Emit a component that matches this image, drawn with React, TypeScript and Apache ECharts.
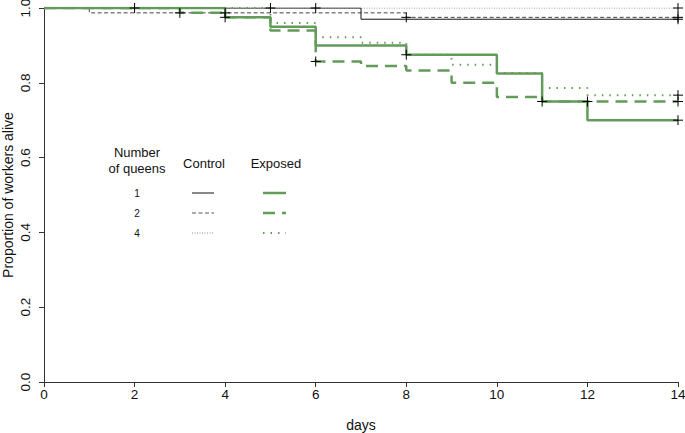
import React, { useEffect, useRef } from "react";
import * as echarts from "echarts";

// Kaplan-Meier curves: step changes at given days
const control1Days = [0, 7, 14];
const control1Surv = [1.0, 0.97, 0.97];
const control2Days = [0, 1, 8, 14];
const control2Surv = [1.0, 0.987, 0.975, 0.975];
const control4Days = [0, 14];
const control4Surv = [1.0, 1.0];
const exposed1Days = [0, 4, 5, 6, 8, 10, 11, 12, 14];
const exposed1Surv = [1.0, 0.975, 0.95, 0.9, 0.875, 0.825, 0.75, 0.7, 0.7];
const exposed2Days = [0, 3, 4, 5, 6, 7, 8, 9, 10, 11, 14];
const exposed2Surv = [1.0, 0.987, 0.975, 0.94, 0.857, 0.845, 0.833, 0.8, 0.762, 0.75, 0.75];
const exposed4Days = [0, 5, 6, 7, 8, 9, 10, 11, 12, 14];
const exposed4Surv = [1.0, 0.96, 0.922, 0.907, 0.875, 0.848, 0.826, 0.786, 0.767, 0.767];

// censoring marks
const censorDays = [2, 3, 4, 4, 5, 6, 6, 8, 8, 11, 12, 14, 14, 14, 14, 14, 14];
const censorSurv = [1.0, 0.987, 0.987, 0.975, 1.0, 1.0, 0.857, 0.975, 0.875, 0.75, 0.75, 1.0, 0.975, 0.97, 0.767, 0.75, 0.7];

const xTicks = [0, 2, 4, 6, 8, 10, 12, 14];
const yTicks = [0, 0.2, 0.4, 0.6, 0.8, 1.0];

const legendRows = ["1", "2", "4"];

const GREEN = "#639c5a";
const FONT = "Liberation Sans, Arial, Helvetica, sans-serif";

function pairs(xs: number[], ys: number[]) {
  return xs.map((x, i) => [x, ys[i]]);
}

export default function App() {
  const ref = useRef<HTMLDivElement>(null);
  useEffect(() => {
    if (!ref.current) return;
    const chart = echarts.init(ref.current, null, { renderer: "svg" });
    const stepLine = (name: string, xs: number[], ys: number[], color: string, width: number, dash: any, z: number) => ({
      type: "line",
      name,
      step: "end",
      showSymbol: false,
      symbol: "none",
      data: pairs(xs, ys),
      lineStyle: { color, width, type: dash },
      z,
      silent: true,
    });
    const legendX = { label: 137, control: [192, 214], exposed: [263, 286] };
    const rowY = [193, 213, 233];
    const ctrlStyles = [
      { stroke: "#111", lineWidth: 1, lineDash: null as any },
      { stroke: "#555", lineWidth: 1, lineDash: [4, 2.5] },
      { stroke: "#888", lineWidth: 1, lineDash: [1, 1.5] },
    ];
    const expStyles = [
      { stroke: GREEN, lineWidth: 2.5, lineDash: null as any },
      { stroke: GREEN, lineWidth: 2.5, lineDash: [12, 7] },
      { stroke: GREEN, lineWidth: 2, lineDash: [1.5, 6] },
    ];
    const tStyle = (text: string, size: number) => ({ text, fontSize: size, fontFamily: FONT, fill: "#111", align: "center", verticalAlign: "middle" });
    const graphics: any[] = [
      { type: "text", x: 137, y: 152, style: tStyle("Number", 13) },
      { type: "text", x: 137, y: 168, style: tStyle("of queens", 13) },
      { type: "text", x: 204, y: 163, style: tStyle("Control", 13) },
      { type: "text", x: 276, y: 163, style: tStyle("Exposed", 13) },
    ];
    legendRows.forEach((lab, i) => {
      graphics.push({ type: "text", x: legendX.label, y: rowY[i], style: tStyle(lab, 10) });
      graphics.push({ type: "line", shape: { x1: legendX.control[0], y1: rowY[i], x2: legendX.control[1], y2: rowY[i] }, style: ctrlStyles[i] });
      graphics.push({ type: "line", shape: { x1: legendX.exposed[0], y1: rowY[i], x2: legendX.exposed[1], y2: rowY[i] }, style: expStyles[i] });
    });

    chart.setOption({
      animation: false,
      backgroundColor: "#ffffff",
      textStyle: { fontFamily: FONT },
      grid: { left: 44, right: 7, top: 8, bottom: 51, outerBoundsMode: "none", containLabel: false },
      xAxis: {
        type: "value",
        min: xTicks[0],
        max: xTicks[xTicks.length - 1],
        interval: 2,
        name: "days",
        nameLocation: "middle",
        nameGap: 36,
        nameMoveOverlap: false,
        nameTextStyle: { fontSize: 14, color: "#111", fontFamily: FONT },
        axisLine: { show: true, onZero: false, lineStyle: { color: "#333", width: 1 } },
        axisTick: { show: true, length: 5, lineStyle: { color: "#333" } },
        axisLabel: { fontSize: 13.5, color: "#111", margin: 5, fontFamily: FONT, showMaxLabel: true, showMinLabel: true },
        splitLine: { show: false },
      },
      yAxis: {
        type: "value",
        min: yTicks[0],
        max: yTicks[yTicks.length - 1],
        interval: 0.2,
        name: "Proportion of workers alive",
        nameLocation: "middle",
        nameGap: 29,
        nameMoveOverlap: false,
        nameTextStyle: { fontSize: 14, color: "#111", fontFamily: FONT },
        axisLine: { show: true, onZero: false, lineStyle: { color: "#333", width: 1 } },
        axisTick: { show: true, length: 5, lineStyle: { color: "#333" } },
        axisLabel: { fontSize: 13.5, color: "#111", rotate: 90, margin: 12, fontFamily: FONT, formatter: (v: number) => v.toFixed(1), showMaxLabel: true, showMinLabel: true },
        splitLine: { show: false },
      },
      graphic: graphics,
      series: [
        stepLine("control4", control4Days, control4Surv, "#888", 1, [1, 1.5], 2),
        stepLine("control2", control2Days, control2Surv, "#444", 1, [4, 2.5], 3),
        stepLine("control1", control1Days, control1Surv, "#111", 1, "solid", 4),
        stepLine("exposed4", exposed4Days, exposed4Surv, GREEN, 2, [1.5, 6], 5),
        stepLine("exposed2", exposed2Days, exposed2Surv, GREEN, 2.5, [12, 7], 6),
        stepLine("exposed1", exposed1Days, exposed1Surv, GREEN, 2.5, "solid", 7),
        {
          type: "scatter",
          name: "censored",
          data: pairs(censorDays, censorSurv),
          symbol: "path://M5,0L5,10M0,5L10,5",
          symbolSize: 10,
          itemStyle: { color: "none", borderColor: "#000", borderWidth: 1, opacity: 1 },
          z: 10,
          silent: true,
        },
      ],
    });
    return () => chart.dispose();
  }, []);
  return <div ref={ref} style={{ position: "fixed", left: 0, top: 0, width: 685, height: 433 }} />;
}
